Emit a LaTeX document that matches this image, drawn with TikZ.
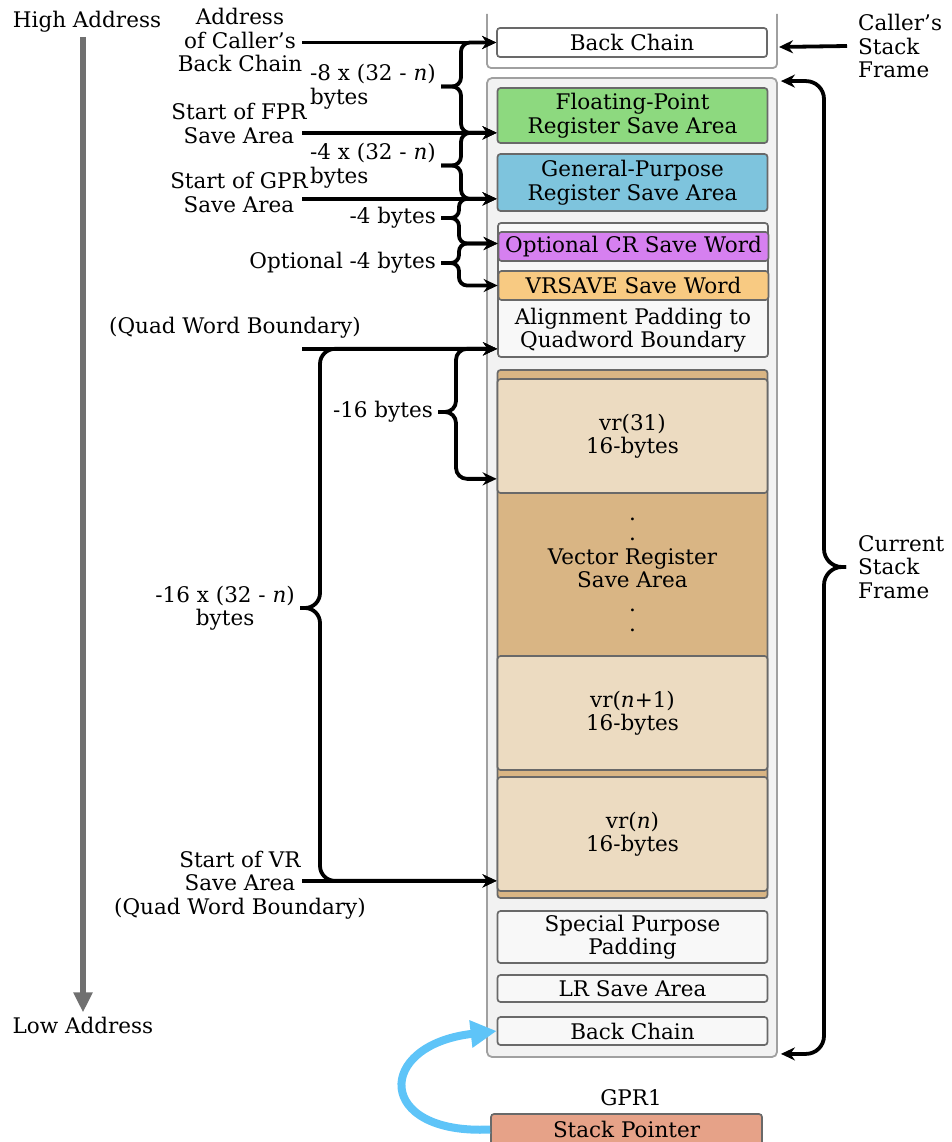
\documentclass[tikz,border=0pt]{standalone}
\usepackage{fontspec}
\setmainfont{DejaVu Serif}
\usetikzlibrary{arrows.meta,calc}

\definecolor{fprgreen}{RGB}{141,217,127}
\definecolor{gprblue}{RGB}{126,196,221}
\definecolor{crpurple}{RGB}{214,128,240}
\definecolor{vrsorange}{RGB}{248,202,130}
\definecolor{vrtan}{RGB}{217,181,132}
\definecolor{vrlight}{RGB}{236,219,193}
\definecolor{framefill}{RGB}{242,242,242}
\definecolor{padfill}{RGB}{248,248,248}
\definecolor{framegray}{RGB}{160,160,160}
\definecolor{boxgray}{RGB}{105,105,105}
\definecolor{addrgray}{RGB}{112,112,112}
\definecolor{sporange}{RGB}{230,162,136}
\definecolor{spblue}{RGB}{94,196,248}

\tikzset{
  regbox/.style={draw=boxgray, line width=1.7pt, rounded corners=3pt, inner sep=1pt,
    align=center, minimum width=270pt},
  lbl/.style={align=center, inner sep=0pt},
  conn/.style={line width=3.8pt, -{Stealth[length=14pt,width=13pt]}},
  brace/.style={conn, rounded corners=8pt},
}

\begin{document}
\begin{tikzpicture}[x=1pt, y=-1pt, font=\fontsize{21.5}{23.5}\selectfont]
    \useasboundingbox (0,0) rectangle (952,1142);

    % Address direction
    \node[lbl] (high) at (87,22) {High Address};
    \node[lbl] (low) at (83,1025) {Low Address};
    \draw[line width=6pt, addrgray, -{Triangle[width=18pt,length=20pt]}, shorten <=4pt, shorten >=4pt]
        (high.south -| low) -- (low.north);

    % Caller's frame
    \draw[framegray, line width=1.8pt, rounded corners=4pt] (487,14) |- (777,68) -- (777,14);
    \node[regbox, fill=white, minimum height=29pt] (bcTop) at (632,42.5) {Back Chain};
    \node[lbl, align=left, anchor=west] (callerLbl) at (858,46) {Caller's\\Stack\\Frame};
    \coordinate (callerEdge) at (779,47);
    \draw[conn] ([xshift=-11pt]callerLbl.west) -- (callerEdge);

    % Current frame
    \node[draw=framegray, fill=framefill, line width=1.8pt, rounded corners=5pt,
        minimum width=290pt, minimum height=979pt] (cur) at (632,567.5) {};
    \node[regbox, fill=fprgreen, minimum height=55pt] (fpr) at (632.5,115.5) {Floating-Point\\Register Save Area};
    \node[regbox, fill=gprblue, minimum height=57pt] (gpr) at (632.5,182.5) {General-Purpose\\Register Save Area};

    % CR, VRSAVE, padding
    \node[regbox, fill=padfill, minimum height=134pt] (grp) at (633,290) {};
    \node[regbox, fill=crpurple, minimum height=29pt] (cr) at (633.5,246.5) {Optional CR Save Word};
    \node[regbox, fill=vrsorange, minimum height=29pt] (vrs) at (633.5,285.5) {VRSAVE Save Word};
    \node[lbl] (alignTxt) at (633,330) {Alignment Padding to\\Quadword Boundary};

    % Vector registers
    \node[regbox, fill=vrtan, minimum height=528pt] (vra) at (632.5,634) {};
    \foreach \nm/\yc/\txt in {vr31/436/{vr(31)}, vrn1/713/{vr(\textit{n}+1)}, vrn/834/{vr(\textit{n})}} {
        \node[regbox, fill=vrlight, minimum height=114pt] (\nm) at (632.5,\yc) {\txt\\16-bytes};
    }
    \node[lbl] (vrTxt) at (632.5,575) {.\\[-3pt].\\Vector Register\\Save Area\\.\\[-3pt].};

    % Lower boxes
    \node[regbox, fill=padfill, minimum height=52pt] (special) at (632.5,937) {Special Purpose\\Padding};
    \node[regbox, fill=padfill, minimum height=27pt] (lr) at (632.5,988.5) {LR Save Area};
    \node[regbox, fill=padfill, minimum height=28pt] (bcBot) at (632.5,1031) {Back Chain};

    % Stack pointer
    \node[lbl] (gpr1) at (631,1098) {GPR1};
    \node[regbox, fill=sporange, minimum width=271pt, minimum height=31pt] (sp) at (626.5,1129.5) {Stack Pointer};
    \draw[line width=8pt, spblue, -{Triangle[width=26pt,length=26pt]}]
        (sp.west) .. controls (375,1135) and (375,1045) .. (bcBot.west);

    % Left labels
    \node[lbl] (lAddr) at (240,40) {Address\\of Caller's\\Back Chain};
    \node[lbl] (lFpr) at (239,123.5) {Start of FPR\\Save Area};
    \node[lbl] (lGpr) at (239,192.5) {Start of GPR\\Save Area};
    \node[lbl] (lQuad) at (235,328) {(Quad Word Boundary)};
    \node[lbl] (lVr) at (240,885) {Start of VR\\Save Area\\(Quad Word Boundary)};

    % Arrow targets
    \coordinate (lineL) at (302,0);
    \coordinate (tBc) at (bcTop.west);
    \coordinate (tFpr) at ([yshift=11pt]fpr.south west);
    \coordinate (tGpr) at ([yshift=13pt]gpr.south west);
    \coordinate (tCr) at ([yshift=3pt]cr.west);
    \coordinate (tVrs) at (vrs.west);
    \coordinate (tAlign) at ([yshift=9pt]grp.south west);
    \coordinate (tVr31) at ([yshift=15pt]vr31.south west);
    \coordinate (tVr) at ([yshift=11pt]vrn.south west);

    \foreach \t in {tBc, tFpr, tGpr, tAlign, tVr} {
        \draw[conn] (lineL |- \t) -- (\t);
    }

    % Brace labels
    \node[lbl, align=left, anchor=east] (w1) at (436,86.5) {-8 x (32 - \textit{n})\\bytes};
    \node[lbl, align=left, anchor=east] (w2) at (436,165.5) {-4 x (32 - \textit{n})\\bytes};
    \node[lbl, anchor=east] (w3) at (436,218) {-4 bytes};
    \node[lbl, anchor=east] (w4) at (436,263) {Optional -4 bytes};
    \node[lbl, anchor=east] (w5) at (433,412) {-16 bytes};
    \node[lbl, anchor=east] (w6) at (295,608) {-16 x (32 - \textit{n})\\bytes};

    % Braces
    \foreach \w/\a/\b/\dx/\r in {w1/tBc/tFpr/20/9, w2/tFpr/tGpr/20/9, w3/tGpr/tCr/18/8,
        w4/tCr/tVrs/18/8, w5/tAlign/tVr31/18/11, w6/tAlign/tVr/20/15} {
        \draw[brace, rounded corners=\r pt] ([xshift=5pt]\w.east) -- ++(\dx,0) |- (\a);
        \draw[brace, rounded corners=\r pt] ([xshift=5pt]\w.east) -- ++(\dx,0) |- (\b);
    }

    % Current stack frame brace
    \node[lbl, align=left, anchor=west] (curLbl) at (858,567) {Current\\Stack\\Frame};
    \coordinate (tTop) at ([xshift=3pt,yshift=-4pt]cur.north east);
    \coordinate (tBot) at ([xshift=3pt,yshift=4pt]cur.south east);
    \draw[brace, rounded corners=18pt] ([xshift=-12pt]curLbl.west) -- ++(-22,0) |- (tTop);
    \draw[brace, rounded corners=18pt] ([xshift=-12pt]curLbl.west) -- ++(-22,0) |- (tBot);
\end{tikzpicture}
\end{document}
